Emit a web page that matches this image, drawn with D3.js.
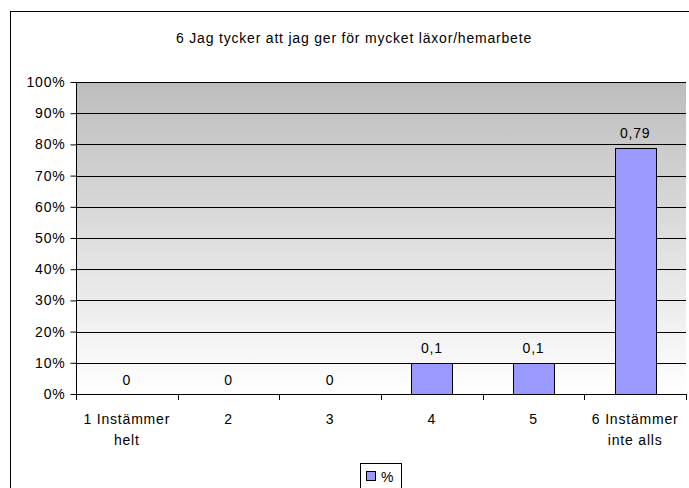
<!DOCTYPE html>
<html><head><meta charset="utf-8">
<script src="https://cdn.jsdelivr.net/npm/d3@7"></script>
<style>body{margin:0;background:#fff}svg{display:block}text{font-family:"Liberation Sans",Arial,sans-serif;fill:#000;letter-spacing:0.8px}</style>
</head><body><svg id="c" width="689" height="488"></svg>
<script>
const title = "6 Jag tycker att jag ger för mycket läxor/hemarbete";
const categories = [["1 Instämmer","helt"],["2"],["3"],["4"],["5"],["6 Instämmer","inte alls"]];
const values = [0,0,0,0.1,0.1,0.79];
const valueLabels = ["0","0","0","0,1","0,1","0,79"];
const yTicks = [0,0.1,0.2,0.3,0.4,0.5,0.6,0.7,0.8,0.9,1];
const seriesName = "%";

const svg = d3.select("#c");
const L=76, R=686, T=82, B=394;
const defs = svg.append("defs");
const g = defs.append("linearGradient").attr("id","bg").attr("x1",0).attr("y1",0).attr("x2",0).attr("y2",1);
g.append("stop").attr("offset","0%").attr("stop-color","#bdbdbd");
g.append("stop").attr("offset","100%").attr("stop-color","#ffffff");

svg.append("rect").attr("x",10.5).attr("y",11.5).attr("width",720).attr("height",520).attr("fill","#fff").attr("stroke","#000");

const x = d3.scaleBand().domain(d3.range(categories.length)).range([L,R]).paddingInner(0.6).paddingOuter(0.3);
const xb = d3.scaleBand().domain(d3.range(categories.length)).range([L,R]);
const y = d3.scaleLinear().domain([0,1]).range([B,T]);

svg.append("rect").attr("x",L).attr("y",T).attr("width",R-L).attr("height",B-T).attr("fill","url(#bg)");

svg.append("g").selectAll("line").data(yTicks.slice(1)).join("line")
  .attr("x1",L).attr("x2",R).attr("y1",d=>Math.round(y(d))+0.5).attr("y2",d=>Math.round(y(d))+0.5).attr("stroke","#000");

const ya = svg.append("g").attr("transform",`translate(${L+0.5},0)`)
  .call(d3.axisLeft(y).tickValues(yTicks).tickFormat(d3.format(".0%")).tickSize(6).tickPadding(5));
ya.select(".domain").attr("stroke","#000").attr("d",`M0,${T}V${B}`);
ya.selectAll(".tick line").attr("stroke","#000");
ya.selectAll(".tick text").style("font-size","14px").style("font-family",null).attr("fill","#000");

svg.append("g").selectAll("rect").data(values).join("rect")
  .attr("x",(d,i)=>Math.round(x(i))+0.5).attr("width",Math.round(x.bandwidth()))
  .attr("y",d=>Math.round(y(d))+0.5).attr("height",d=>Math.max(0,Math.round(y(0))-Math.round(y(d))))
  .attr("fill","#9999ff").attr("stroke","#000").attr("stroke-width",1)
  .attr("display",d=>d>0?null:"none");

svg.append("g").selectAll("text").data(values).join("text")
  .attr("x",(d,i)=>x(i)+x.bandwidth()/2).attr("y",d=>y(d)-9.5)
  .attr("text-anchor","middle").style("font-size","14px").text((d,i)=>valueLabels[i]);

// x axis
svg.append("line").attr("x1",L).attr("x2",R).attr("y1",B+0.5).attr("y2",B+0.5).attr("stroke","#000");
svg.append("g").selectAll("line").data(d3.range(categories.length+1)).join("line")
  .attr("x1",i=>Math.round(L+i*xb.bandwidth())+0.5).attr("x2",i=>Math.round(L+i*xb.bandwidth())+0.5)
  .attr("y1",B).attr("y2",B+6).attr("stroke","#000");
const lab = svg.append("g").selectAll("text").data(categories).join("text")
  .attr("x",(d,i)=>xb(i)+xb.bandwidth()/2).attr("y",424).attr("text-anchor","middle").style("font-size","14px");
lab.selectAll("tspan").data(d=>d).join("tspan")
  .attr("x",function(){return this.parentNode.getAttribute("x");}).attr("dy",(d,i)=>i?21:0).text(d=>d);

svg.append("text").attr("x",354).attr("y",43).attr("text-anchor","middle").style("font-size","14px").text(title);

// legend
const lg = svg.append("g");
lg.append("rect").attr("x",360.5).attr("y",463.5).attr("width",41).attr("height",30).attr("fill","#fff").attr("stroke","#000");
lg.append("rect").attr("x",366.5).attr("y",471.5).attr("width",9).attr("height",9).attr("fill","#9999ff").attr("stroke","#000");
lg.append("text").attr("x",381).attr("y",482).style("font-size","14px").text(seriesName);
</script></body></html>
